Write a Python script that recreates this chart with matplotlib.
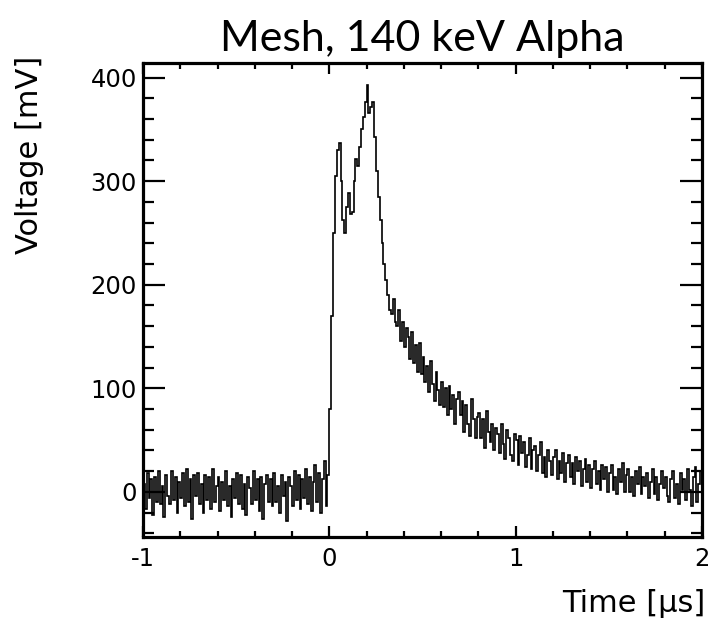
import numpy as np
import matplotlib
matplotlib.use("Agg")
import matplotlib.pyplot as plt
from matplotlib.ticker import MultipleLocator, FuncFormatter

plt.rcParams["font.family"] = ["DejaVu Sans"]

# ---- data ----
t_start = -1.0      # first bin edge [us]
dt = 0.01           # bin width [us]

baseline = [
    8, -16, 18, -6, 12, -22, 14, -10, 20, -12,
    6, -24, 16, -4, -12, 20, -8, 14, -20, 10,
    -6, 18, -14, 22, -10, 12, -26, 16, -4, 18,
    -12, 8, -20, 16, -8, 14, -16, 22, -10, 6,
    14, -18, 10, -8, 20, -14, 6, -24, 12, -6,
    18, -12, 16, -16, 8, -22, 14, 4, -12, 20,
    -8, 12, -18, 14, -26, 8, 16, -10, 12, -14,
    18, -10, 6, -20, 16, -4, 10, -28, 14, 6,
    -14, 20, -8, 16, -16, 12, -6, 22, -12, 14,
    -18, 10, 26, -10, 18, -20, 12, 30, -14, 16,
]
pulse = [
    80, 170, 250, 305, 330, 337, 300, 262, 250, 275,
    289, 268, 270, 300, 321, 315, 333, 350, 362, 376,
    393, 366, 372, 376, 343, 310, 285, 262, 240, 220,
]
tail = [
    205, 190, 176, 172, 186, 164, 160, 176, 146, 164,
    140, 158, 150, 128, 154, 124, 142, 116, 144, 114,
    130, 106, 122, 96, 126, 104, 88, 116, 98, 84,
    106, 82, 100, 74, 102, 80, 94, 66, 90, 96,
    74, 88, 58, 84, 66, 54, 90, 70, 52, 72,
    76, 52, 70, 42, 78, 58, 48, 66, 40, 62,
    56, 38, 66, 46, 32, 60, 52, 36, 30, 56,
    50, 26, 54, 38, 48, 24, 36, 52, 22, 40,
    44, 20, 36, 48, 18, 34, 14, 40, 30, 16,
    34, 40, 12, 30, 18, 38, 10, 28, 36, 14,
    28, 8, 34, 20, 30, 6, 22, 32, 10, 26,
    4, 22, 30, 8, 20, 2, 26, 12, 24, 0,
    18, 26, 2, 14, -2, 22, 10, 28, 0, 16,
    22, 0, 14, -4, 20, 8, 24, -2, 14, 6,
    18, -6, 10, 22, -2, 14, -8, 8, 20, 4,
    14, -4, -10, 12, 20, -6, 8, -12, 18, 2,
    12, -8, 22, 2, -14, 14, 24, -10, 8, 20,
]
voltage = np.array(baseline + pulse + tail, dtype=float)
edges = t_start + dt * np.arange(len(voltage) + 1)

title = "Mesh, 140 keV Alpha"
xlabel = "Time [\u03bcs]"
ylabel = "Voltage [mV]"

# ---- figure ----
fig = plt.figure(figsize=(7.15, 6.3), dpi=100)
ax = fig.add_axes([143 / 715, 1 - 537 / 630, (702 - 143) / 715, (537 - 63) / 630])

ax.stairs(voltage, edges, color="black", linewidth=1.2)

ax.set_xlim(-1, 2)
ax.set_ylim(-43.5, 414)

ax.xaxis.set_major_locator(MultipleLocator(1))
ax.xaxis.set_minor_locator(MultipleLocator(0.2))
ax.yaxis.set_major_locator(MultipleLocator(100))
ax.yaxis.set_minor_locator(MultipleLocator(20))
ax.xaxis.set_major_formatter(FuncFormatter(lambda v, p: f"{v:g}"))

ax.tick_params(axis="both", which="both", direction="in", top=True, right=True,
               width=1.6, labelsize=17.5, colors="black")
ax.tick_params(axis="y", which="major", length=15.5, pad=4.5)
ax.tick_params(axis="y", which="minor", length=8)
ax.tick_params(axis="x", which="major", length=8, pad=7)
ax.tick_params(axis="x", which="minor", length=4)
for s in ax.spines.values():
    s.set_linewidth(2.3)

ax.set_xlabel(xlabel, fontsize=22, loc="right")
ax.xaxis.set_label_coords(1.006, -0.11)
ax.set_ylabel(ylabel, fontsize=22, loc="top")
ax.yaxis.set_label_coords(-0.177, 1.015)

ax.set_title(title, fontsize=31, family=["Lato", "DejaVu Sans"], pad=9)

fig.savefig("out.png", dpi=100)
